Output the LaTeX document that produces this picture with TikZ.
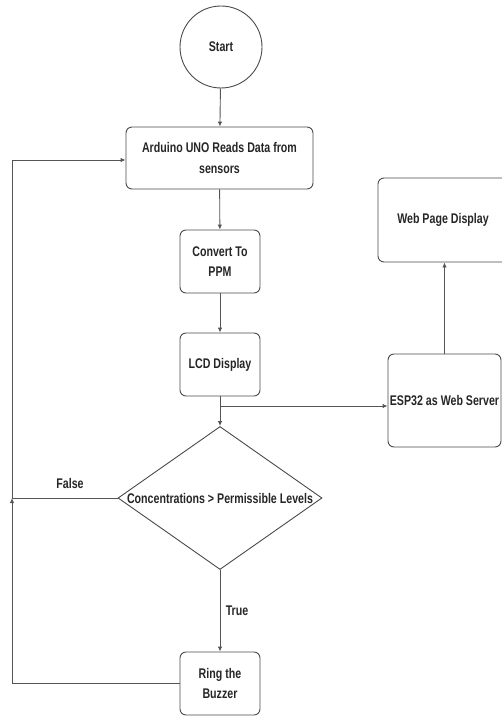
\documentclass[tikz,border=0pt]{standalone}
\usepackage{fontspec}
\setmainfont{Liberation Sans}[FakeStretch=0.76]
\usetikzlibrary{arrows.meta,shapes.geometric}
\definecolor{linegray}{HTML}{555555}
\definecolor{boxgray}{HTML}{4A4A4A}
\tikzset{
  box/.style={draw=boxgray, line width=0.9pt, rounded corners=6pt, align=center, inner sep=2pt},
  txt/.style={font=\fontsize{14}{20.5}\selectfont\bfseries, text=black!85},
  conn/.style={draw=linegray, line width=0.9pt, -{Latex[length=5pt,width=4.5pt]}},
  plain/.style={draw=linegray, line width=0.9pt},
}
\begin{document}
\begin{tikzpicture}[x=1pt,y=-1pt]
\useasboundingbox (0,0) rectangle (502,717);
\clip (0,0) rectangle (502,717);
\node[draw=boxgray, line width=0.9pt, circle, minimum size=82pt, inner sep=0, txt] (start) at (221,47) {Start};
\node[box, txt, minimum width=187pt, minimum height=62pt] (ard) at (219.5,158) {Arduino UNO Reads Data from\\sensors};
\node[box, txt, minimum width=80pt, minimum height=63pt] (conv) at (220,261.5) {Convert To\\PPM};
\node[box, txt, minimum width=80pt, minimum height=63pt] (lcd) at (220,364.5) {LCD Display};
\node[draw=boxgray, line width=0.9pt, diamond, minimum width=204pt, minimum height=143pt, inner sep=0] (dia) at (220,498) {};
\node[txt, inner sep=0] (diatext) at (dia.center) {Concentrations > Permissible Levels};
\node[box, txt, minimum width=80pt, minimum height=63pt] (ring) at (220,683.5) {Ring the\\Buzzer};
\node[box, txt, minimum width=113pt, minimum height=93pt, inner sep=0] (esp) at (444.5,400.5) {ESP32 as Web Server};
\node[box, minimum width=130pt, minimum height=84pt] (web) at (443,220) {};
\node[txt] (webtext) at (443,220) {Web Page Display};

\coordinate (branch) at (220,406);
\coordinate (lefttop) at (12,160);
\coordinate (leftmid) at (12,498);
\coordinate (leftbot) at (12,683.5);

\draw[conn] (start) -- (ard);
\draw[conn] (ard) -- (conv);
\draw[conn] (conv) -- (lcd);
\draw[conn] (lcd) -- (dia.north);
\draw[conn] (branch) -- (branch -| esp.west);
\draw[conn] (esp.north) -- (esp.north |- web.south);
\draw[conn] (dia.west) -- (leftmid) -- (lefttop) -- (lefttop -| ard.west);
\draw[conn] (ring.west) -- (leftbot) -- (leftmid);
\draw[conn] (dia.south) -- node[txt, right, pos=0.5, xshift=2pt] (truelbl) {True} (ring.north);
\node[txt] (falselbl) at (70,483) {False};
\end{tikzpicture}
\end{document}
